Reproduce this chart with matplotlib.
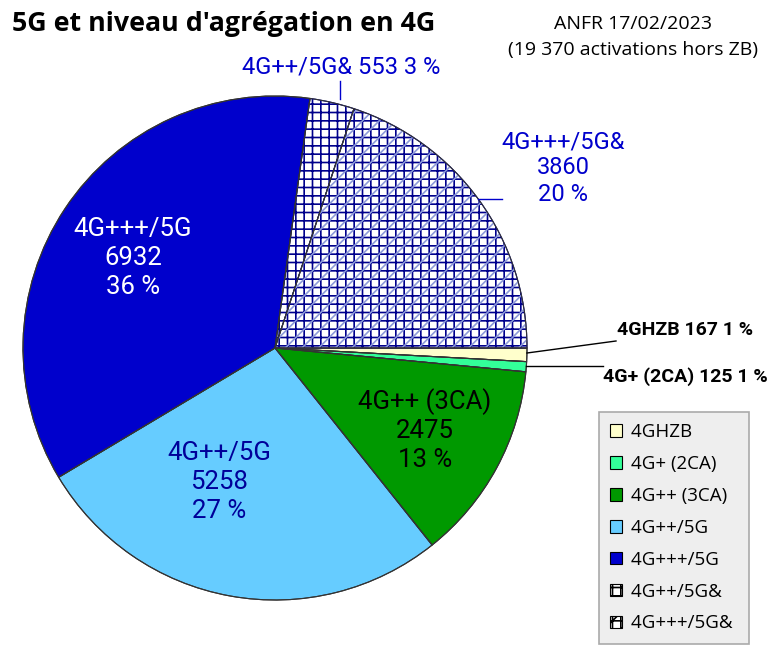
import matplotlib.pyplot as plt
from matplotlib.patches import Patch

# données ANFR 17/02/2023
labels = ['4GHZB', '4G+ (2CA)', '4G++ (3CA)', '4G++/5G', '4G+++/5G', '4G++/5G&', '4G+++/5G&']
values = [167, 125, 2475, 5258, 6932, 553, 3860]
percents = ['1 %', '1 %', '13 %', '27 %', '36 %', '3 %', '20 %']
colors = ['#FFFFCC', '#33FF99', '#009900', '#66CCFF', '#0000CC', 'white', 'white']
hatches = [None, None, None, None, None, '++', '++']

plt.rcParams['hatch.linewidth'] = 1.2

fig = plt.figure(figsize=(7.69, 6.5), dpi=100)
ax = fig.add_axes([0, 0, 1, 1])

cx, cy, r = 275, 302, 252
none7 = ['none'] * len(values)

wedges, _ = ax.pie(values, colors=colors, startangle=0, counterclock=False,
                   center=(cx, cy), radius=r, frame=True,
                   wedgeprops=dict(edgecolor='#333333', linewidth=0.8))
for w, h in zip(wedges, hatches):
    if h:
        w.set_hatch(h)
        w.set_edgecolor('#00008C')

# diagonales plus claires pour 4G+++/5G&
over, _ = ax.pie(values, colors=none7, startangle=0, counterclock=False,
                 center=(cx, cy), radius=r, frame=True,
                 wedgeprops=dict(edgecolor='#8C99D9', linewidth=0))
for i, w in enumerate(over):
    if i == 6:
        w.set_hatch('//')
    else:
        w.set_visible(False)
# contour redessiné par-dessus
edge, _ = ax.pie(values, colors=none7, startangle=0, counterclock=False,
                 center=(cx, cy), radius=r, frame=True,
                 wedgeprops=dict(edgecolor='#333333', linewidth=0.8))
ax.set_xlim(0, 769)
ax.set_ylim(0, 650)
ax.set_aspect('equal')
ax.axis('off')

lab = dict(family='Roboto', fontsize=18.5, ha='center', va='center', linespacing=1.25)

ax.text(133, 650 - 258, f'{labels[4]}\n{values[4]}\n{percents[4]}', color='white', **lab)
ax.text(219, 650 - 482, f'{labels[3]}\n{values[3]}\n{percents[3]}', color='#000099', **lab)
ax.text(425, 650 - 430, f'{labels[2]}\n{values[2]}\n{percents[2]}', color='black', **lab)
ax.text(563, 650 - 168, f'{labels[6]}\n{values[6]}\n{percents[6]}', color='#0000CC',
        family='Roboto', fontsize=17, ha='center', va='center', linespacing=1.17)
ax.plot([478, 502], [650 - 199, 650 - 199], color='#0000CC', lw=1)

ax.text(341, 650 - 67, f'{labels[5]} {values[5]} {percents[5]}', color='#0000CC',
        family='Roboto', fontsize=17, ha='center', va='center')
ax.plot([340, 340], [650 - 81, 650 - 99], color='#0000CC', lw=1)

ax.text(617, 650 - 330, f'{labels[0]} {values[0]} {percents[0]}', color='black',
        family='Roboto', fontsize=14, fontweight='bold', ha='left', va='center')
ax.plot([527, 616], [650 - 353, 650 - 341], color='black', lw=1)
ax.text(603, 650 - 377, f'{labels[1]} {values[1]} {percents[1]}', color='black',
        family='Roboto', fontsize=14, fontweight='bold', ha='left', va='center')
ax.plot([526, 603], [650 - 366, 650 - 366], color='black', lw=1)

ax.text(12, 650 - 24, "5G et niveau d'agrégation en 4G", family='Open Sans',
        fontsize=19.3, fontweight='bold', ha='left', va='center')
ax.text(633, 650 - 24, 'ANFR 17/02/2023', family='Open Sans', fontsize=14,
        ha='center', va='center')
ax.text(633, 650 - 50, '(19 370 activations hors ZB)', family='Open Sans', fontsize=14,
        ha='center', va='center')

leg_hatches = hatches[:6] + ['++//']
handles = []
for c, h, l in zip(colors, leg_hatches, labels):
    p = Patch(facecolor=c, edgecolor='black', hatch=h, label=l + ' ', linewidth=0.8)
    handles.append(p)
leg = ax.legend(handles=handles, loc='upper left', bbox_to_anchor=(599 / 769, 1 - 412 / 650),
                prop={'family': 'Open Sans', 'size': 13.5}, frameon=True, fancybox=False,
                facecolor='#EEEEEE', edgecolor='#AAAAAA', framealpha=1,
                handlelength=0.65, handleheight=0.65, handletextpad=0.45,
                labelspacing=0.74, borderpad=0.6, borderaxespad=0)
leg.get_frame().set_linewidth(1.2)

fig.savefig('out.png', dpi=100)
